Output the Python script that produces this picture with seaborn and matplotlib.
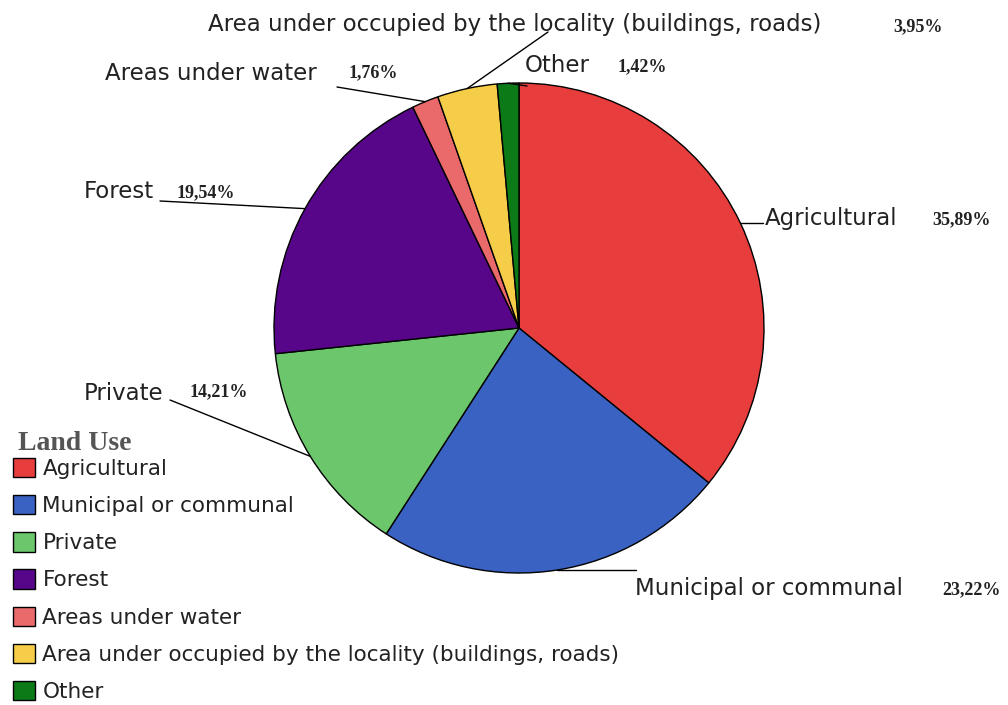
import numpy as np
import matplotlib
matplotlib.use("Agg")
import matplotlib.pyplot as plt
import seaborn as sns

categories = ["Agricultural", "Municipal or communal", "Private", "Forest",
              "Areas under water",
              "Area under occupied by the locality (buildings, roads)", "Other"]
shares = [35.89, 23.22, 14.21, 19.54, 1.76, 3.95, 1.42]
colors = ["#E83D3D", "#3A62C2", "#6CC76C", "#57068A", "#EA6A6C", "#F6CD48", "#0B7A17"]

sns.set_theme(style="white")
plt.rcParams['font.family'] = ['DejaVu Sans']

fig = plt.figure(figsize=(10.08, 7.05), dpi=100)
ax = fig.add_axes([0, 0, 1, 1])

cx, cy, r = 519, 328, 245
wedges, _ = ax.pie(shares, colors=colors, center=(cx, cy), radius=r,
                   startangle=270, counterclock=True, frame=True,
                   wedgeprops=dict(edgecolor='black', linewidth=1))
ax.set_xlim(0, 1008)
ax.set_ylim(705, 0)
ax.axis('off')

# label anchor (end of leader line), name position, percent position
label_pos = {
    "Agricultural": ((763, None), (765, 219), (932, 220)),
    "Municipal or communal": ((636, None), (635, 589), (942, 590)),
    "Private": ((170, 400), (84, 393), (190, 392)),
    "Forest": ((160, 201), (84, 191), (177, 193)),
    "Areas under water": ((337, 87), (105, 74), (349, 73)),
    "Area under occupied by the locality (buildings, roads)": ((548, 32), (208, 24), (893, 27)),
    "Other": ((527, 86), (525, 66), (618, 67)),
}

for w, name, val in zip(wedges, categories, shares):
    mid = np.deg2rad((w.theta1 + w.theta2) / 2)
    ex, ey = cx + r * np.cos(mid), cy + r * np.sin(mid)
    (lx, ly), (tx, ty), (px, py) = label_pos[name]
    if ly is None:
        ly = ey
    ax.plot([ex, lx], [ey, ly], color='black', lw=1)
    ax.text(tx, ty, name, fontsize=16.5, color='#222222', va='center', ha='left')
    ax.text(px, py, f"{val:.2f}%".replace('.', ','), fontsize=13, fontweight='bold',
            family='Liberation Serif', color='#222222', va='center', ha='left')

ax.text(18, 443, "Land Use", family='Liberation Serif', fontweight='bold',
        fontsize=20, color='#555555', va='center', ha='left')

leg = ax.legend(wedges, categories, loc='upper left', bbox_to_anchor=(13 / 1008, 1 - 458 / 705),
                frameon=False, fontsize=15.5,
                handlelength=1.0, handleheight=1.0, handletextpad=0.37,
                labelspacing=0.75, borderaxespad=0, borderpad=0)
for t in leg.get_texts():
    t.set_color('#222222')

fig.savefig('out.png', dpi=100)
